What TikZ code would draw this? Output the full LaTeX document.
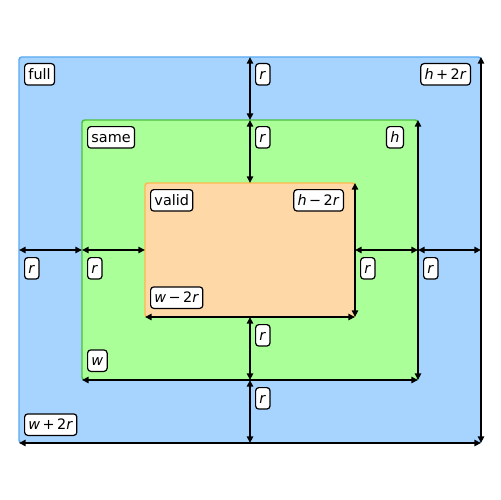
\documentclass[tikz,border=0pt]{standalone}
\usepackage{fontspec}
\setmainfont{DejaVu Sans}
\usetikzlibrary{arrows.meta}

\definecolor{fullfill}{HTML}{A7D3FF}
\definecolor{fulledge}{HTML}{5AAAF0}
\definecolor{samefill}{HTML}{AAFF99}
\definecolor{sameedge}{HTML}{4CC03C}
\definecolor{validfill}{HTML}{FFD8A8}
\definecolor{validedge}{HTML}{FFB84D}

\tikzset{
  region/.style={line width=0.85pt, rounded corners=1.6pt},
  dimarrow/.style={line width=0.8pt, {Triangle[length=3.8pt,width=3.6pt]}-{Triangle[length=3.8pt,width=3.6pt]}},
  tag/.style={draw, fill=white, line width=0.7pt, rounded corners=1.8pt,
    inner sep=2.2pt, minimum height=12.2pt, text height=6.4pt, text depth=0.6pt,
    font=\fontsize{8.2}{9.5}\selectfont},
}
\newcommand{\vr}[1]{\textit{#1}}

\begin{document}
\begin{tikzpicture}[x=0.02cm, y=-0.02cm, line cap=round, line join=round]

% ----------------- Parameters (pixel grid, 500 x 500) -----------------
\def\xa{19}  \def\xb{82}  \def\xc{145}   % left edges: full, same, valid
\def\xd{355} \def\xe{418} \def\xf{481}   % right edges: valid, same, full
\def\ya{57}  \def\yb{120} \def\yc{183}   % top edges
\def\yd{317} \def\ye{380} \def\yf{443}   % bottom edges
\def\ctr{250}                            % centre line for the r arrows

\useasboundingbox (0,0) rectangle (500,500);

% ----------------- Regions -----------------
\draw[region, draw=fulledge, fill=fullfill] (\xa,\ya) rectangle (\xf,\yf);
\draw[region, draw=sameedge, fill=samefill] (\xb,\yb) rectangle (\xe,\ye);
\draw[region, draw=validedge, fill=validfill] (\xc,\yc) rectangle (\xd,\yd);

% Key points for the r arrows
\coordinate (T1) at (\ctr,\ya);  \coordinate (T2) at (\ctr,\yb);
\coordinate (T3) at (\ctr,\yc);  \coordinate (B1) at (\ctr,\yd);
\coordinate (B2) at (\ctr,\ye);  \coordinate (B3) at (\ctr,\yf);
\coordinate (L1) at (\xa,\ctr);  \coordinate (L2) at (\xb,\ctr);
\coordinate (L3) at (\xc,\ctr);  \coordinate (R1) at (\xd,\ctr);
\coordinate (R2) at (\xe,\ctr);  \coordinate (R3) at (\xf,\ctr);

% Corner points for the width / height arrows
\coordinate (FulBL) at (\xa,\yf); \coordinate (FulBR) at (\xf,\yf); \coordinate (FulTR) at (\xf,\ya);
\coordinate (SamBL) at (\xb,\ye); \coordinate (SamBR) at (\xe,\ye); \coordinate (SamTR) at (\xe,\yb);
\coordinate (ValBL) at (\xc,\yd); \coordinate (ValBR) at (\xd,\yd); \coordinate (ValTR) at (\xd,\yc);

% ----------------- r arrows -----------------
\draw[dimarrow] (T1) -- (T2);
\draw[dimarrow] (T2) -- (T3);
\draw[dimarrow] (B1) -- (B2);
\draw[dimarrow] (B2) -- (B3);
\draw[dimarrow] (L1) -- (L2);
\draw[dimarrow] (L2) -- (L3);
\draw[dimarrow] (R1) -- (R2);
\draw[dimarrow] (R2) -- (R3);

% ----------------- width / height arrows -----------------
\draw[dimarrow] (FulBL) -- (FulBR);
\draw[dimarrow] (FulBR) -- (FulTR);
\draw[dimarrow] (SamBL) -- (SamBR);
\draw[dimarrow] (SamBR) -- (SamTR);
\draw[dimarrow] (ValBL) -- (ValBR);
\draw[dimarrow] (ValBR) -- (ValTR);

% ----------------- Region labels -----------------
\node[tag, anchor=north west] (full)  at (24,63)  {full};
\node[tag, anchor=north west] (same)  at (87,126) {same};
\node[tag, anchor=north west] (valid) at (150,189) {valid};

% ----------------- Height labels -----------------
\node[tag, anchor=north east] (hfull)  at (471,63)  {\vr{h}\,+\,2\vr{r}};
\node[tag, anchor=north east] (hsame)  at (404,126) {\vr{h}};
\node[tag, anchor=north east] (hvalid) at (344,189) {\vr{h}\,−\,2\vr{r}};

% ----------------- Width labels -----------------
\node[tag, anchor=south west] (wfull)  at (24,436) {\vr{w}\,+\,2\vr{r}};
\node[tag, anchor=south west] (wsame)  at (87,372) {\vr{w}};
\node[tag, anchor=south west] (wvalid) at (150,309) {\vr{w}\,−\,2\vr{r}};

% ----------------- r labels -----------------
\node[tag, anchor=north west] (rt1) at (255,63)  {\vr{r}};
\node[tag, anchor=north west] (rt2) at (255,126) {\vr{r}};
\node[tag, anchor=north west] (rb1) at (255,324) {\vr{r}};
\node[tag, anchor=north west] (rb2) at (255,387) {\vr{r}};
\node[tag, anchor=north west] (rl1) at (24,257)  {\vr{r}};
\node[tag, anchor=north west] (rl2) at (87,257)  {\vr{r}};
\node[tag, anchor=north west] (rr1) at (360,257) {\vr{r}};
\node[tag, anchor=north west] (rr2) at (423,257) {\vr{r}};

\end{tikzpicture}
\end{document}
